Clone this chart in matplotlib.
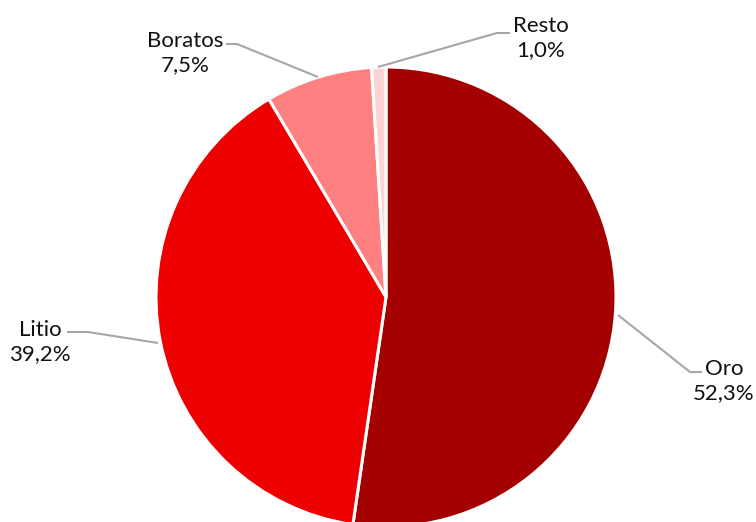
import matplotlib
matplotlib.use("Agg")
import matplotlib.pyplot as plt

labels = ["Oro", "Litio", "Boratos", "Resto"]
values = [52.3, 39.2, 7.5, 1.0]
colors = ["#A50000", "#EE0000", "#FF8080", "#FFD3D3"]
pct_text = ["52,3%", "39,2%", "7,5%", "1,0%"]

W, H = 756, 522
fig = plt.figure(figsize=(W / 100, H / 100), dpi=100)
ax = fig.add_axes([0, 0, 1, 1])

cx, cy, r = 386, H - 297, 230
ax.pie(values, colors=colors, startangle=90, counterclock=False,
       center=(cx, cy), radius=r, frame=True,
       wedgeprops=dict(edgecolor="white", linewidth=2.2))
ax.set_xlim(0, W)
ax.set_ylim(0, H)
ax.set_aspect("equal")
ax.axis("off")

# leader lines (pixel coords, y from top)
leaders = [
    [(618, 315), (690, 372), (702, 372)],
    [(158, 343), (88, 332), (67, 332)],
    [(318, 77), (237, 44), (226, 44)],
    [(378, 67), (497, 33), (510, 33)],
]
for pts in leaders:
    xs = [p[0] for p in pts]
    ys = [H - p[1] for p in pts]
    ax.plot(xs, ys, color="#A6A6A6", lw=1.5, solid_capstyle="butt")

label_pos = [(724, 381), (40, 342), (185, 53), (541, 38)]
for (x, y), name, pct in zip(label_pos, labels, pct_text):
    ax.text(x, H - y, name + "\n" + pct, ha="center", va="center",
            fontsize=16, family=["Lato", "DejaVu Sans"], color="#111111",
            linespacing=1.3)

fig.savefig("out.png", dpi=100)
